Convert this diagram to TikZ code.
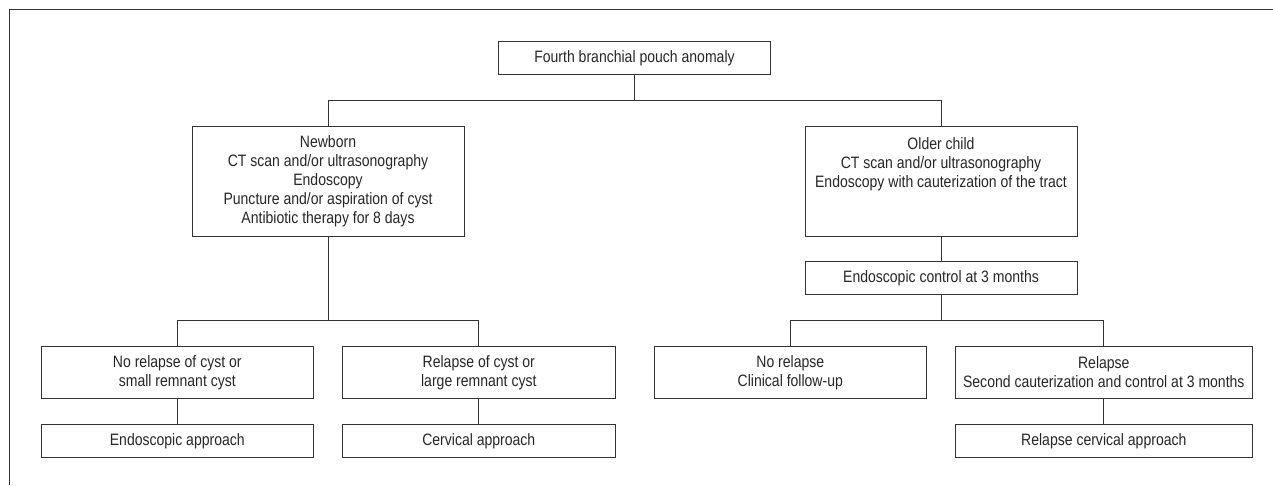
\documentclass[tikz,border=0pt]{standalone}
\usepackage{fontspec}
\setmainfont{Liberation Sans}[FakeStretch=0.85]
\begin{document}
\begin{tikzpicture}[x=1pt,y=-1pt,
  box/.style={draw=black!80, line width=0.9pt, inner sep=0pt, align=center,
    text=black!85, font=\fontsize{16.5}{19}\selectfont, minimum width=272pt},
  txt/.style={inner sep=0pt, align=center, text=black!85, font=\fontsize{16.5}{19}\selectfont},
  link/.style={draw=black!80, line width=0.9pt}]
\useasboundingbox (0,0) rectangle (1273,485);
\draw[link] (9.5,485) -- (9.5,9.8) -- (1273,9.8);

\node[box, minimum width=272.4pt, minimum height=33pt] (top) at (634.5,58.2) {Fourth branchial pouch anomaly};
\node[box, minimum height=110pt] (newborn) at (328,181.3) {Newborn\\CT scan and/or ultrasonography\\Endoscopy\\Puncture and/or aspiration of cyst\\Antibiotic therapy for 8 days};
\node[box, minimum height=110pt] (older) at (941,181.3) {};
\node[txt, anchor=north] (oldertxt) at (941,137.5) {Older child\\CT scan and/or ultrasonography\\Endoscopy with cauterization of the tract};
\node[box, minimum height=32.3pt] (endo) at (941,278) {Endoscopic control at 3 months};

\node[box, minimum height=52.4pt] (norelL) at (177.3,372.5) {No relapse of cyst or\\small remnant cyst};
\node[box, minimum width=272.3pt, minimum height=52.4pt] (relL) at (478.8,372.5) {Relapse of cyst or\\large remnant cyst};
\node[box, minimum height=33pt] (endoapp) at (177.3,440.8) {Endoscopic approach};
\node[box, minimum width=272.3pt, minimum height=33pt] (cervapp) at (478.8,440.8) {Cervical approach};

\node[box, minimum height=52.4pt] (norelR) at (790.3,372.5) {No relapse\\Clinical follow-up};
\node[box, minimum width=296.5pt, minimum height=52.4pt] (relR) at (1103.8,372.5) {Relapse\\Second cauterization and control at 3 months};
\node[box, minimum width=296.5pt, minimum height=33pt] (relcerv) at (1103.8,440.8) {Relapse cervical approach};

\coordinate (bus1) at (634.5,100.3);
\coordinate (bus2) at (328,320.5);
\coordinate (bus3) at (941,320.5);

\draw[link] (top.south) -- (bus1);
\draw[link] (newborn.north) |- (bus1) -| (older.north);
\draw[link] (newborn.south) -- (bus2);
\draw[link] (norelL.north) |- (bus2) -| (relL.north);
\draw[link] (norelL.south) -- (endoapp.north);
\draw[link] (relL.south) -- (cervapp.north);
\draw[link] (older.south) -- (endo.north);
\draw[link] (endo.south) -- (bus3);
\draw[link] (norelR.north) |- (bus3) -| (relR.north);
\draw[link] (relR.south) -- (relcerv.north);
\end{tikzpicture}
\end{document}
